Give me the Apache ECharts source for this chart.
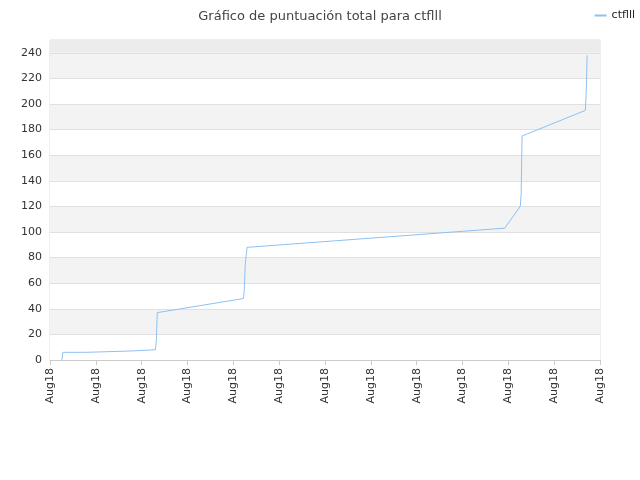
<!DOCTYPE html>
<html><head><meta charset="utf-8">
<script src="https://cdn.jsdelivr.net/npm/echarts@6/dist/echarts.min.js"></script>
</head><body style="margin:0">
<div id="c" style="width:640px;height:480px"></div>
<script>
// time position (minutes from start of axis) and total score
const times = [13,14,39,40,87,89,115,116,117,211,212,213,215,496,513,514,515,584,585,586];
const scores = [0,6,6,7,7,8,8,15,37,48,55,75,88,103,120,130,175,195,210,238];
const xLabel = 'Aug18';

const chart = echarts.init(document.getElementById('c'));
chart.setOption({
  animation: false,
  title: {text: 'Gráfico de puntuación total para ctflll', left: 'center', top: 5,
    textStyle: {fontSize: 13, fontWeight: 'normal', color: '#444', fontFamily: 'DejaVu Sans'}},
  legend: {right: 0, top: 5, itemWidth: 12, itemHeight: 2, icon: 'rect',
    textStyle: {fontSize: 11, color: '#222', fontFamily: 'DejaVu Sans'}, data: ['ctflll']},
  grid: {left: 50, right: 40, top: 40, bottom: 120, show: true, borderColor: '#ddd', borderWidth: 1},
  xAxis: {type: 'value', min: 0, max: 600, interval: 50,
    axisLine: {lineStyle: {color: '#ccc'}}, axisTick: {show: true, lineStyle: {color: '#ccc'}},
    splitLine: {show: false},
    axisLabel: {rotate: 90, color: '#333', fontSize: 11, fontFamily: 'DejaVu Sans', formatter: () => xLabel}},
  yAxis: {type: 'value', min: 0, max: 250, interval: 20,
    axisLine: {show: false}, axisTick: {show: false},
    axisLabel: {color: '#333', fontSize: 11, fontFamily: 'DejaVu Sans',
      formatter: v => (v === 250 ? '' : v)},
    splitLine: {lineStyle: {color: '#e0e0e0'}},
    splitArea: {show: true, areaStyle: {color: ['#ffffff', '#f3f3f3']}}},
  series: [{
    name: 'ctflll', type: 'line', showSymbol: false,
    lineStyle: {width: 1, color: '#8fc0f2'}, itemStyle: {color: '#8fc0f2'},
    data: times.map((t, i) => [t, scores[i]]),
    markArea: {silent: true, itemStyle: {color: '#ececec'}, data: [[{yAxis: 240}, {yAxis: 250}]]}
  }]
});
</script>
</body></html>
